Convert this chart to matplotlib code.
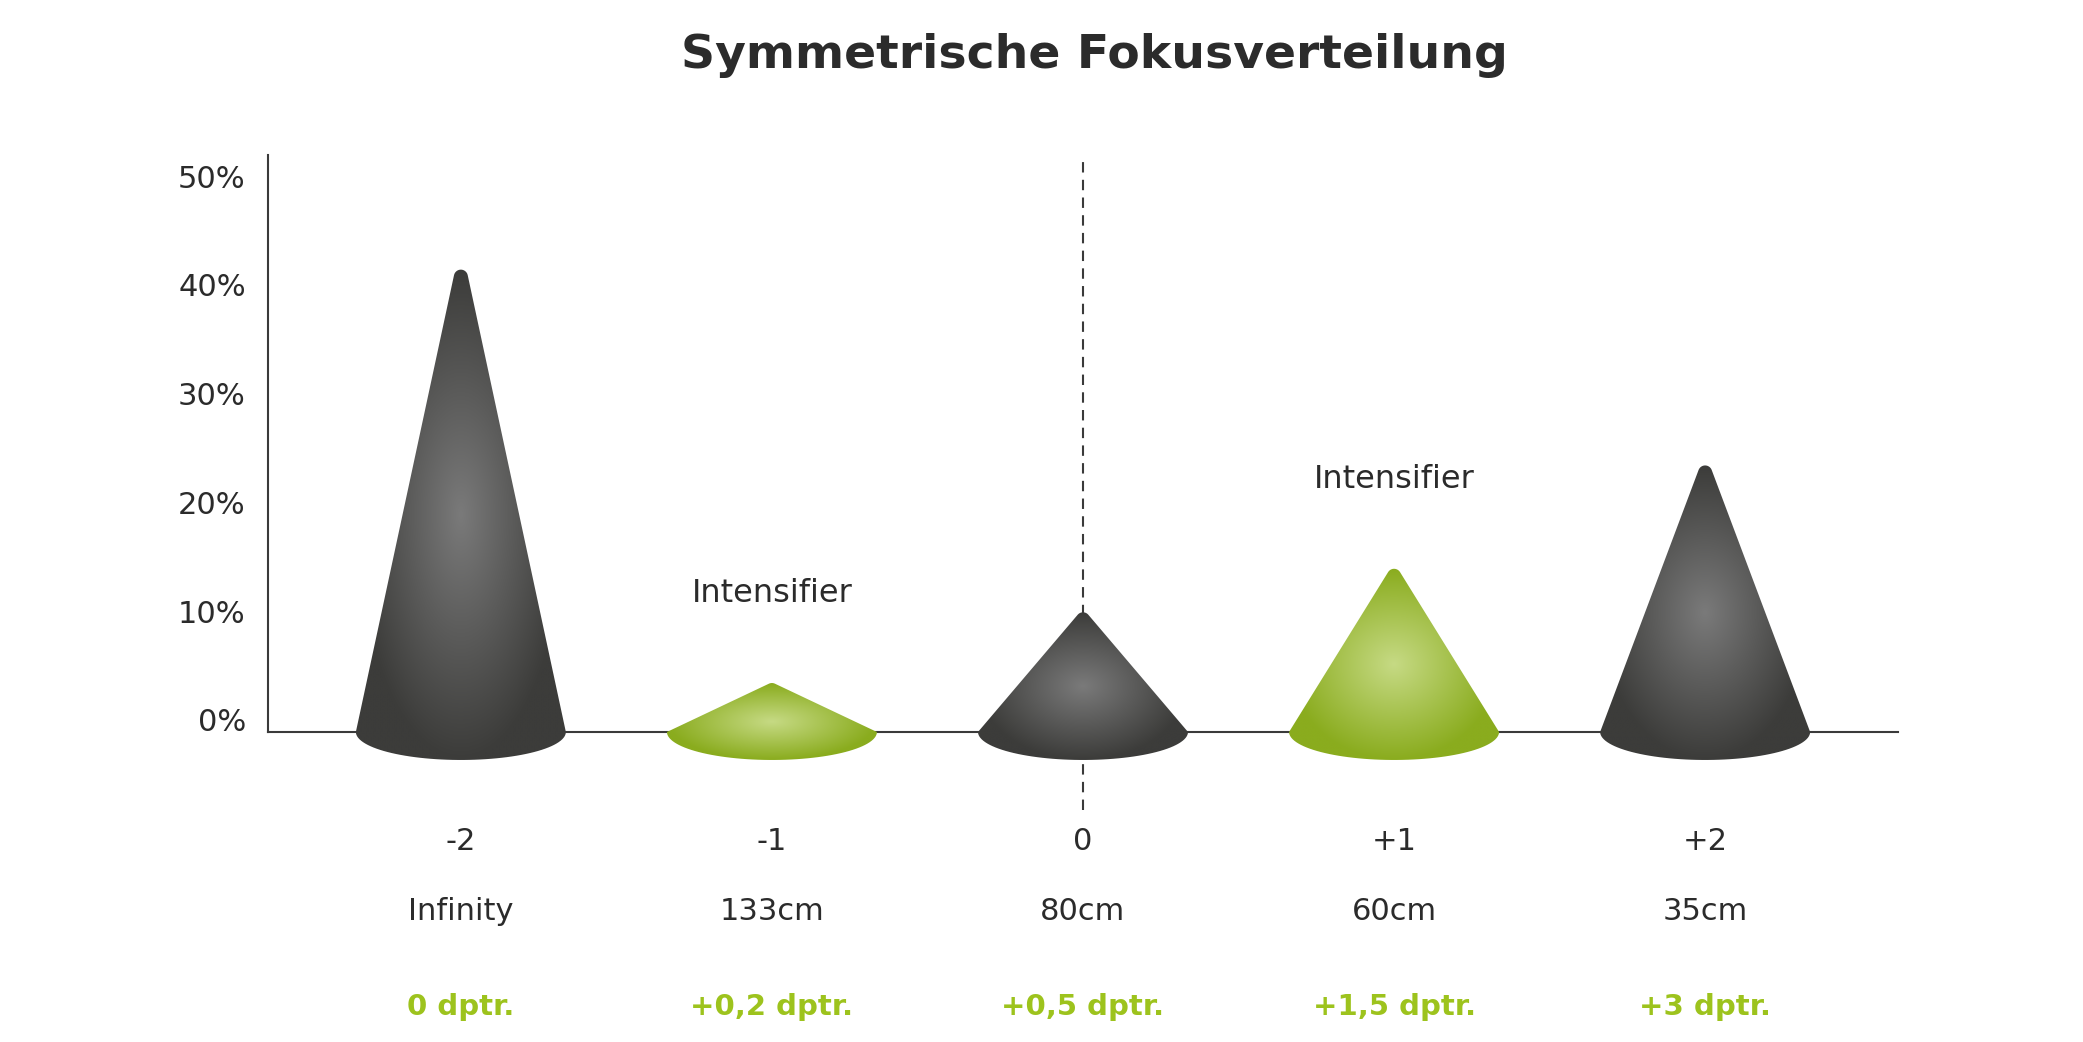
import numpy as np
import matplotlib
matplotlib.use("Agg")
import matplotlib.pyplot as plt
from matplotlib.path import Path
from matplotlib.patches import PathPatch
from matplotlib import transforms
from matplotlib.colors import LinearSegmentedColormap

plt.rcParams['font.family'] = ['DejaVu Sans']

# data
steps = [-2, -1, 0, 1, 2]
step_labels = ['-2', '-1', '0', '+1', '+2']
distances = ['Infinity', '133cm', '80cm', '60cm', '35cm']
diopters = ['0 dptr.', '+0,2 dptr.', '+0,5 dptr.', '+1,5 dptr.', '+3 dptr.']
share = [42.5, 4.5, 11, 15, 24.5]          # percent
intensifier = [False, True, False, True, False]
y_ticks = [0, 10, 20, 30, 40, 50]

TEXT = '#2b2b2b'
GREEN_TXT = '#9dc31d'
dark_cmap = LinearSegmentedColormap.from_list('dark', ['#7a7a7a', '#3c3c3a'])
green_cmap = LinearSegmentedColormap.from_list('green', ['#c6da84', '#8aac1e'])

W, H = 2083, 1042
fig = plt.figure(figsize=(W / 100, H / 100), dpi=100)
ax = fig.add_axes([268 / W, 1 - 819 / H, (1898 - 268) / W, (819 - 155.4) / H])
ax.set_xlim(-2.62, 2.62)
ax.set_ylim(-8, 53)

# pixels per data unit
p0 = ax.transData.transform((0, 0))
p1 = ax.transData.transform((1, 1))
sx, sy = p1[0] - p0[0], p1[1] - p0[1]

hw = 105   # cone half width, px
eh = 28    # half height of the base ellipse, px
r = 7      # apex rounding, px


def cone_path(x0, val):
    top = val * sy
    # virtual apex so that the rounded tip reaches the value
    hv = top
    for _ in range(20):
        a = np.arctan(hw / hv)
        hv = top + r / np.sin(a) - r
    a = np.arctan(hw / hv)
    cy = hv - r / np.sin(a)
    pts = [(-hw, 0)]
    for t in np.linspace(np.pi - a, a, 16):
        pts.append((r * np.cos(t), cy + r * np.sin(t)))
    pts.append((hw, 0))
    for t in np.linspace(0, -np.pi, 60):
        pts.append((hw * np.cos(t), eh * np.sin(t)))
    pts = np.array(pts)
    pts[:, 0] = x0 + pts[:, 0] / sx
    pts[:, 1] = pts[:, 1] / sy
    return Path(np.vstack([pts, pts[:1]]), closed=True)


for x0, val, green in zip(steps, share, intensifier):
    path = cone_path(x0, val)
    patch = PathPatch(path, facecolor='none', edgecolor='none', zorder=3)
    ax.add_patch(patch)
    x_lo, x_hi = x0 - hw / sx, x0 + hw / sx
    y_lo, y_hi = -eh / sy, val
    xx = np.linspace(-1, 1, 300)
    yy = np.linspace(-1, 1, 400)
    X, Y = np.meshgrid(xx, yy)
    d = np.clip(np.sqrt(X ** 2 + Y ** 2), 0, 1)
    img = ax.imshow(d, cmap=green_cmap if green else dark_cmap, vmin=0, vmax=1,
                    extent=[x_lo, x_hi, y_lo, y_hi], origin='lower',
                    aspect='auto', interpolation='bilinear', zorder=3)
    img.set_clip_path(patch)
    if green:
        ax.text(x0, val + 8.2, 'Intensifier', ha='center', va='center',
                fontsize=23, color=TEXT, zorder=4)

# axes
for s in ['top', 'right']:
    ax.spines[s].set_visible(False)
ax.spines['bottom'].set_position(('data', 0))
ax.spines['left'].set_bounds(0, 53)
for s in ['left', 'bottom']:
    ax.spines[s].set_color('#3a3a3a')
    ax.spines[s].set_linewidth(1.5)
    ax.spines[s].set_zorder(1)

ax.plot([0, 0], [-7.2, 53], color='#3a3a3a', lw=1.5, ls=(0, (5, 3.5)), zorder=1)

ax.set_xticks([])
ax.set_yticks(y_ticks, labels=[f'{v}%' for v in y_ticks])
ax.tick_params(axis='y', length=0, pad=16, labelsize=22, labelcolor=TEXT)
off = transforms.ScaledTranslation(0, 0.12, fig.dpi_scale_trans)
for lab in ax.get_yticklabels():
    lab.set_transform(lab.get_transform() + off)

# labels below the axis
trans = transforms.blended_transform_factory(ax.transData, fig.transFigure)
for x0, a, b, c in zip(steps, step_labels, distances, diopters):
    ax.text(x0, 1 - 841 / H, a, transform=trans, ha='center', va='center',
            fontsize=22, color=TEXT)
    ax.text(x0, 1 - 912 / H, b, transform=trans, ha='center', va='center',
            fontsize=22, color=TEXT)
    ax.text(x0, 1 - 1007 / H, c, transform=trans, ha='center', va='center',
            fontsize=21, fontweight='bold', color=GREEN_TXT)

fig.text(1094 / W, 1 - 56 / H, 'Symmetrische Fokusverteilung', ha='center',
         va='center', fontsize=34, fontweight='bold', color=TEXT)

fig.savefig('out.png', dpi=100)
